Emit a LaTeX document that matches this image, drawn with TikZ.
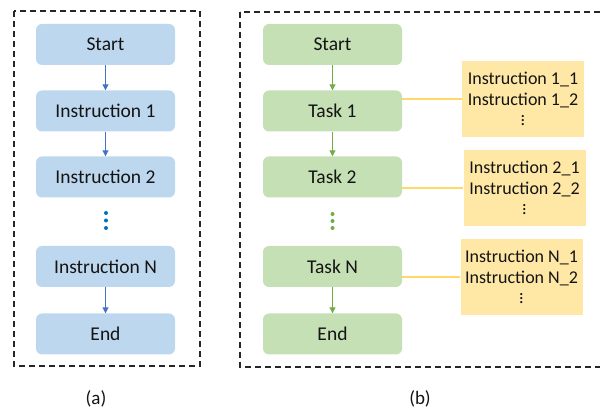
\documentclass[tikz,border=0pt]{standalone}
\usepackage{fontspec}
\setmainfont{Carlito}
\usetikzlibrary{arrows.meta}
\definecolor{bfill}{RGB}{189,215,238}
\definecolor{gfill}{RGB}{197,224,180}
\definecolor{yfill}{RGB}{255,232,165}
\definecolor{yline}{RGB}{255,217,102}
\definecolor{barrow}{RGB}{68,114,196}
\definecolor{garrow}{RGB}{112,173,71}
\definecolor{bdot}{RGB}{0,112,192}
\definecolor{txt}{RGB}{20,20,20}
\begin{document}
\begin{tikzpicture}[x=1pt,y=-1pt,
  basebox/.style={rounded corners=6pt, minimum width=139pt, minimum height=41pt, inner sep=0pt, text=txt, font=\fontsize{19.5}{23}\selectfont},
  bluebox/.style={basebox, fill=bfill},
  greenbox/.style={basebox, fill=gfill},
  instbox/.style={fill=yfill, minimum width=122pt, minimum height=76pt, inner sep=0pt, align=center, text=txt, font=\fontsize{18}{21}\selectfont},
  frame/.style={draw=black!85, line width=1.3pt, dash pattern=on 6pt off 4pt},
  barr/.style={draw=barrow, line width=1.2pt, -{Triangle[length=6pt,width=6pt]}},
  garr/.style={draw=garrow, line width=1.2pt, -{Triangle[length=6pt,width=6pt]}},
  ylink/.style={draw=yline, line width=1.5pt},
  caption/.style={text=txt, font=\fontsize{19}{23}\selectfont}
]
\useasboundingbox (0,0) rectangle (600,411);
% frames
\draw[frame] (14,11) rectangle (200,366);
\draw[frame] (240,12) rectangle (610,367);
% (a)
\node[bluebox] (as) at (105.5,44.5) {Start};
\node[bluebox] (a1) at (105.5,111) {Instruction 1};
\node[bluebox] (a2) at (105.5,177) {Instruction 2};
\node[bluebox] (an) at (105.5,266.5) {Instruction N};
\node[bluebox] (ae) at (105.5,334) {End};
\draw[barr] (as.south) -- (a1.north);
\draw[barr] (a1.south) -- (a2.north);
\draw[barr] (an.south) -- (ae.north);
\foreach \yy in {213,220.5,228} \fill[bdot] (106,\yy) circle (2pt);
% (b)
\node[greenbox] (bs) at (332.5,44.5) {Start};
\node[greenbox] (b1) at (332.5,111) {Task 1};
\node[greenbox] (b2) at (332.5,177) {Task 2};
\node[greenbox] (bn) at (332.5,266.5) {Task N};
\node[greenbox] (be) at (332.5,334) {End};
\draw[garr] (bs.south) -- (b1.north);
\draw[garr] (b1.south) -- (b2.north);
\draw[garr] (bn.south) -- (be.north);
\foreach \yy in {214,221,228} \fill[garrow] (332.5,\yy) circle (2pt);
% instruction boxes
\node[instbox] (y1) at (523,99) {Instruction 1\_1\\Instruction 1\_2\\[-1pt]$\vdots$};
\node[instbox] (y2) at (524.5,188) {Instruction 2\_1\\Instruction 2\_2\\[-1pt]$\vdots$};
\node[instbox] (y3) at (521.5,277) {Instruction N\_1\\Instruction N\_2\\[-1pt]$\vdots$};
\draw[ylink] (y1.west -| b1.east) -- (y1.west);
\draw[ylink] (y2.west -| b2.east) -- (y2.west);
\draw[ylink] (y3.west -| bn.east) -- (y3.west);
% captions
\node[caption] (capa) at (96,399) {(a)};
\node[caption] (capb) at (420,399) {(b)};
\end{tikzpicture}
\end{document}
